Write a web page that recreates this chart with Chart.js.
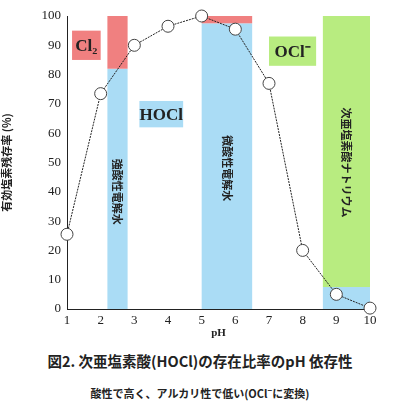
<!DOCTYPE html>
<html><head><meta charset="utf-8">
<script src="https://cdn.jsdelivr.net/npm/chart.js@4"></script>
<style>
body{margin:0;background:#fff;width:400px;height:410px;overflow:hidden}
#wrap{width:400px;height:340px}
.cap{font-family:"Noto Sans CJK JP",sans-serif;font-weight:bold;text-align:center;color:#222}
</style></head><body>
<div id="wrap"><canvas id="c"></canvas></div>
<div class="cap" style="font-size:14.5px;margin-top:10px">図2. 次亜塩素酸(HOCl)の存在比率のpH 依存性</div>
<div class="cap" style="font-size:11px;margin-top:13px">酸性で高く、アルカリ性で低い(OCl<sup style="font-size:8px">−</sup>に変換)</div>
<script>
const phValues = [1, 2, 3, 4, 5, 6, 7, 8, 9, 10];
const residual = [25.5, 73.5, 90, 96.5, 100, 95.5, 77, 20, 5, 0.3];
const xTicks = [1, 2, 3, 4, 5, 6, 7, 8, 9, 10];
// bands: [xFrom, xTo, yFrom, yTo, colour]
const bands = [
  [2.2, 2.8, 0, 82, "#aadcf5"], [2.2, 2.8, 82, 100, "#f08080"],
  [5.0, 6.5, 0, 97.5, "#aadcf5"], [5.0, 6.5, 97.5, 100, "#f08080"],
  [8.6, 10, 0, 7.5, "#aadcf5"], [8.6, 10, 7.5, 100, "#b8ec80"]
];
// boxes: [xFrom, xTo, yFrom, yTo, colour, label]
const boxes = [
  [1.15, 2.0, 85, 95, "#f08080", "Cl₂"],
  [3.15, 4.45, 62, 71, "#aadcf5", "HOCl"],
  [7.0, 8.4, 83, 93, "#b8ec80", "OCl⁻"]
];
// vertical labels: [x, yCentre, text]
const vLabels = [
  [2.5, 40, "強酸性電解水"], [5.75, 48, "微酸性電解水"], [9.3, 50, "次亜塩素酸ナトリウム"]
];

const bandPlugin = {
  id: "bands",
  beforeDatasetsDraw(chart) {
    const {ctx, scales: {x, y}} = chart;
    ctx.save();
    bands.forEach(b => {
      ctx.fillStyle = b[4];
      ctx.fillRect(x.getPixelForValue(b[0]), y.getPixelForValue(b[3]),
        x.getPixelForValue(b[1]) - x.getPixelForValue(b[0]), y.getPixelForValue(b[2]) - y.getPixelForValue(b[3]));
    });
    boxes.forEach(b => {
      const x0 = x.getPixelForValue(b[0]), x1 = x.getPixelForValue(b[1]);
      const y0 = y.getPixelForValue(b[3]), y1 = y.getPixelForValue(b[2]);
      ctx.fillStyle = b[4];
      ctx.fillRect(x0, y0, x1 - x0, y1 - y0);
      ctx.fillStyle = "#222";
      ctx.font = "bold 17px 'Liberation Serif'";
      ctx.textAlign = "center"; ctx.textBaseline = "middle";
      ctx.fillText(b[5], (x0 + x1) / 2, (y0 + y1) / 2 + 1);
    });
    vLabels.forEach(v => {
      ctx.save();
      ctx.translate(x.getPixelForValue(v[0]), y.getPixelForValue(v[1]));
      ctx.rotate(Math.PI / 2);
      ctx.fillStyle = "#222";
      ctx.font = "bold 11px 'Noto Sans CJK JP'";
      ctx.textAlign = "center"; ctx.textBaseline = "middle";
      ctx.fillText(v[2], 0, 0);
      ctx.restore();
    });
    ctx.restore();
  }
};

new Chart(document.getElementById("c"), {
  type: "line",
  data: {
    datasets: [{
      data: phValues.map((p, i) => ({x: p, y: residual[i]})),
      borderColor: "#222", borderWidth: 1, borderDash: [2, 1],
      pointRadius: 6, pointBackgroundColor: "#fff", pointBorderColor: "#444", pointBorderWidth: 1,
      clip: false
    }]
  },
  options: {
    responsive: true, maintainAspectRatio: false, animation: false,
    layout: {padding: {top: 16, right: 30, left: 0, bottom: 0}},
    plugins: {legend: {display: false}, tooltip: {enabled: false}},
    scales: {
      x: {
        type: "linear", min: 1, max: 10,
        afterBuildTicks: s => { s.ticks = xTicks.map(v => ({value: v})); },
        afterFit: s => { s.height = 31; },
        grid: {display: false, drawTicks: true, tickLength: 4},
        border: {color: "#222", width: 1},
        ticks: {color: "#222", font: {family: "Liberation Serif", size: 13}, padding: 0, maxRotation: 0},
        title: {display: true, text: "pH", color: "#222", font: {family: "Liberation Serif", size: 11, weight: "bold"}, padding: 0}
      },
      y: {
        min: 0, max: 100,
        afterFit: s => { s.width = 67; },
        grid: {display: false, tickLength: 4},
        border: {color: "#222", width: 1},
        ticks: {stepSize: 10, color: "#222", font: {family: "Liberation Serif", size: 13}, padding: 2},
        title: {display: true, text: "有効塩素残存率 (%)", color: "#222", font: {family: "Noto Sans CJK JP", size: 11, weight: "bold"}, padding: 0}
      }
    }
  },
  plugins: [bandPlugin]
});
</script>
</body></html>
